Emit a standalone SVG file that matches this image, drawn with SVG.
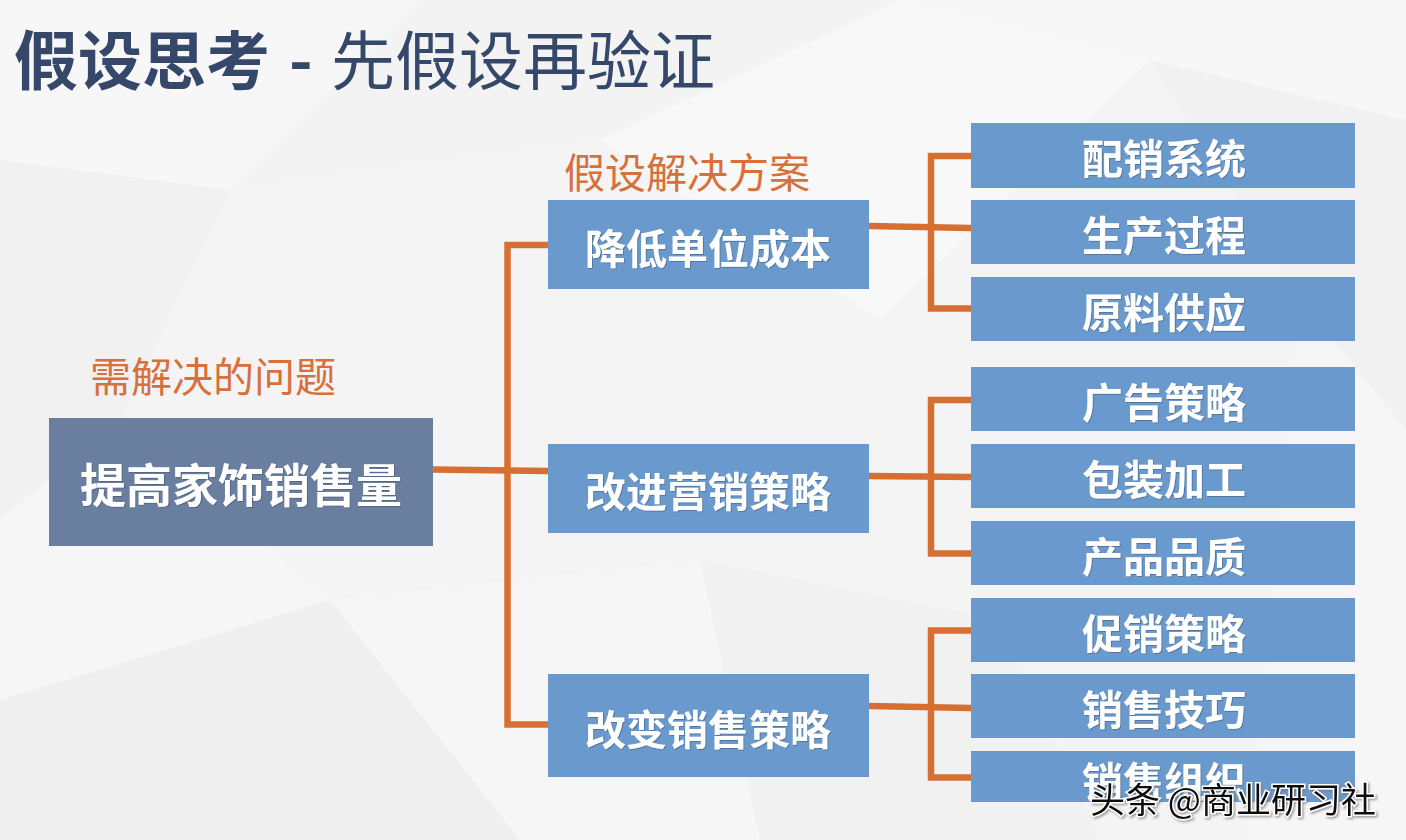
<svg xmlns="http://www.w3.org/2000/svg" width="1406" height="840" viewBox="0 0 1406 840">
  <defs>
    <style>
      .cjk { font-family: "Noto Sans CJK SC", "Noto Sans", sans-serif; }
      .title { fill: #35486a; font-size: 64px; }
      .label { fill: #d7703a; font-size: 41px; }
      .root { fill: #6a7f9f; }
      .box { fill: #6a9acd; }
      .boxtxt { fill: #ffffff; font-weight: 700; font-size: 41px; text-anchor: middle; dominant-baseline: central; filter: url(#ts); }
      .conn { fill: none; stroke: #d66f31; stroke-width: 6.5; stroke-linejoin: miter; }
      .facet { stroke: none; }
    </style>
    <filter id="ts" x="-10%" y="-20%" width="120%" height="140%">
      <feDropShadow dx="1" dy="1" stdDeviation="0.6" flood-color="#3a4a60" flood-opacity="0.45"/>
    </filter>
    <filter id="wm" x="-5%" y="-20%" width="110%" height="140%">
      <feDropShadow dx="1.5" dy="1.5" stdDeviation="0.8" flood-color="#777777" flood-opacity="0.7"/>
    </filter>
  </defs>

  <!-- background -->
  <g id="background">
    <rect x="0" y="0" width="1406" height="840" fill="#f4f4f4"/>
    <polygon class="facet" points="0,0 420,0 230,190 0,160" fill="#f7f7f7"/>
    <polygon class="facet" points="420,0 900,0 600,140 230,190" fill="#f3f3f3"/>
    <polygon class="facet" points="900,0 1406,0 1406,120 1150,60" fill="#f7f7f7"/>
    <polygon class="facet" points="0,160 230,190 120,420 0,520" fill="#f1f1f1"/>
    <polygon class="facet" points="0,520 120,420 330,600 0,700" fill="#f6f6f6"/>
    <polygon class="facet" points="0,700 330,600 520,840 0,840" fill="#efefef"/>
    <polygon class="facet" points="330,600 700,560 760,840 520,840" fill="#f6f6f6"/>
    <polygon class="facet" points="700,560 1000,620 1100,840 760,840" fill="#f1f1f1"/>
    <polygon class="facet" points="1150,60 1406,120 1406,430 1300,300" fill="#f1f1f1"/>
    <polygon class="facet" points="1300,300 1406,430 1406,840 1250,840" fill="#f6f6f6"/>
    <polygon class="facet" points="600,140 900,0 1150,60 880,320" fill="#f8f8f8"/>
  </g>

  <!-- title -->
  <g id="title">
    <text class="cjk title" y="56" dominant-baseline="central"><tspan x="14" font-weight="700">假设思考</tspan><tspan x="289" font-weight="700">-</tspan><tspan x="331" font-weight="400">先假设再验证</tspan></text>
  </g>

  <!-- labels -->
  <g id="label-problem">
    <text class="cjk label" x="90" y="374" dominant-baseline="central">需解决的问题</text>
  </g>
  <g id="label-solution">
    <text class="cjk label" x="564" y="170" dominant-baseline="central">假设解决方案</text>
  </g>

  <!-- connectors -->
  <g id="connectors">
    <path class="conn" d="M433,469.5 L548,471"/>
    <path class="conn" d="M548,245 H507.5 V724.5 H548"/>
    <path class="conn" d="M869,226 L971,228"/>
    <path class="conn" d="M971,156 H931 V308.5 H971"/>
    <path class="conn" d="M869,476 L971,477"/>
    <path class="conn" d="M971,400 H931 V553.5 H971"/>
    <path class="conn" d="M869,706 L971,708"/>
    <path class="conn" d="M971,630.5 H931 V777.5 H971"/>
  </g>

  <!-- root node -->
  <g id="node-root">
    <rect class="root" x="49" y="418" width="384" height="128"/>
    <text class="cjk boxtxt" x="241" y="482" style="font-size:46px">提高家饰销售量</text>
  </g>

  <!-- mid nodes -->
  <g id="node-cost">
    <rect class="box" x="548" y="200" width="321" height="89"/>
    <text class="cjk boxtxt" x="708" y="246">降低单位成本</text>
  </g>
  <g id="node-marketing">
    <rect class="box" x="548" y="444" width="321" height="89"/>
    <text class="cjk boxtxt" x="708" y="489">改进营销策略</text>
  </g>
  <g id="node-sales">
    <rect class="box" x="548" y="674" width="321" height="103"/>
    <text class="cjk boxtxt" x="708" y="727">改变销售策略</text>
  </g>

  <!-- leaf nodes -->
  <g id="node-distribution">
    <rect class="box" x="971" y="123" width="384" height="65"/>
    <text class="cjk boxtxt" x="1164" y="156">配销系统</text>
  </g>
  <g id="node-production">
    <rect class="box" x="971" y="200" width="384" height="64"/>
    <text class="cjk boxtxt" x="1164" y="233">生产过程</text>
  </g>
  <g id="node-material">
    <rect class="box" x="971" y="277" width="384" height="64"/>
    <text class="cjk boxtxt" x="1164" y="310">原料供应</text>
  </g>
  <g id="node-advertising">
    <rect class="box" x="971" y="367" width="384" height="64"/>
    <text class="cjk boxtxt" x="1164" y="400">广告策略</text>
  </g>
  <g id="node-packaging">
    <rect class="box" x="971" y="444" width="384" height="64"/>
    <text class="cjk boxtxt" x="1164" y="477">包装加工</text>
  </g>
  <g id="node-quality">
    <rect class="box" x="971" y="521" width="384" height="64"/>
    <text class="cjk boxtxt" x="1164" y="554">产品品质</text>
  </g>
  <g id="node-promotion">
    <rect class="box" x="971" y="598" width="384" height="64"/>
    <text class="cjk boxtxt" x="1164" y="631">促销策略</text>
  </g>
  <g id="node-skills">
    <rect class="box" x="971" y="674" width="384" height="64"/>
    <text class="cjk boxtxt" x="1164" y="707">销售技巧</text>
  </g>
  <g id="node-organization">
    <rect class="box" x="971" y="751" width="384" height="51"/>
    <text class="cjk boxtxt" x="1164" y="779">销售组织</text>
  </g>

  <!-- watermark -->
  <g id="watermark">
    <text class="cjk" x="1090" y="797" dominant-baseline="central" font-size="35" fill="#111111" stroke="#ffffff" stroke-width="3" paint-order="stroke" filter="url(#wm)">头条 @商业研习社</text>
  </g>
</svg>
